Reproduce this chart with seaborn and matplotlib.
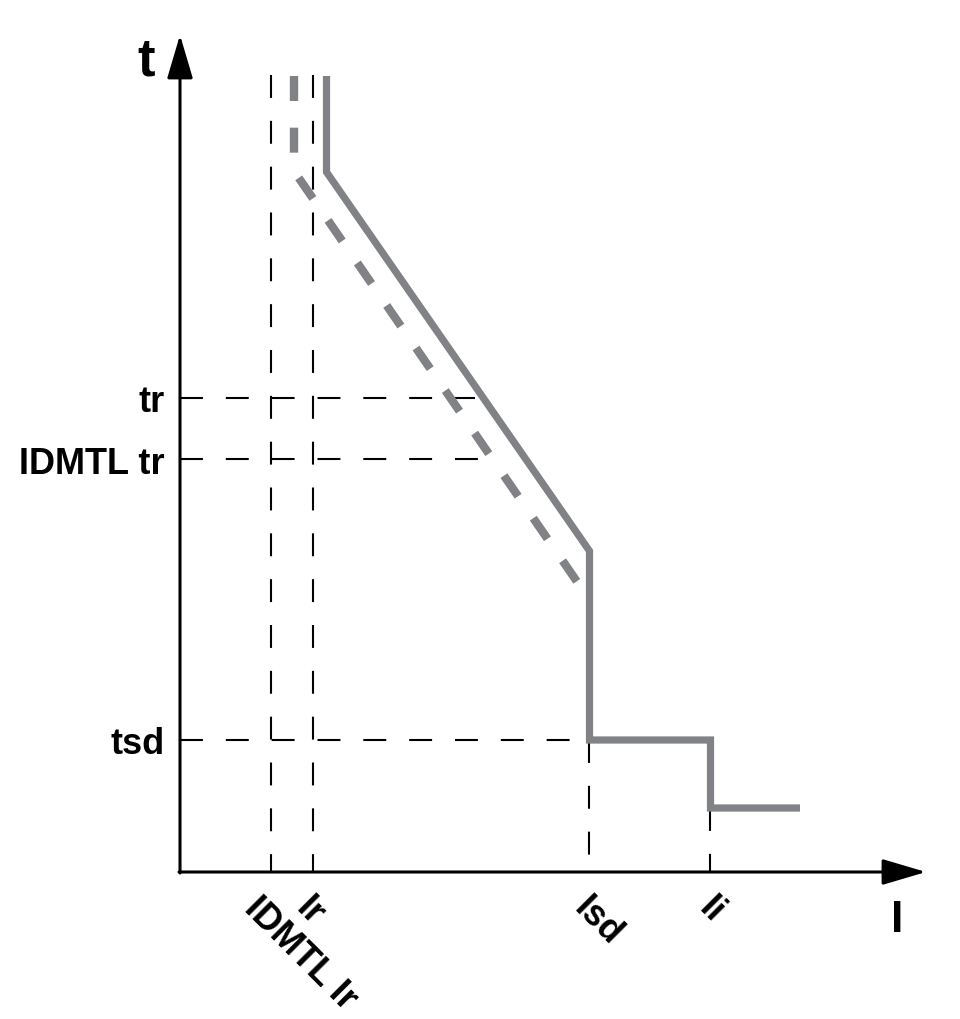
import matplotlib
matplotlib.use("Agg")
import matplotlib.pyplot as plt
import numpy as np
import pandas as pd
import seaborn as sns

# current levels (I axis) and time levels (t axis), schematic units
i_labels = ['IDMTL Ir', 'Ir', 'Isd', 'Ii']
i_values = [0.91, 1.33, 4.09, 5.30]
t_labels = ['tr', 'IDMTL tr', 'tsd']
t_values = [4.74, 4.13, 1.32]

# where each horizontal guide stops (meets the curve)
t_guide_end = [2.95, 3.08, 4.09]
# where each vertical guide starts from below the top
i_guide_top = [7.97, 7.97, 1.32, 0.64]

# solid trip curve
solid_I = [1.465, 1.465, 4.095, 4.095, 5.305, 5.305, 6.20]
solid_t = [7.96, 7.00, 3.21, 1.32, 1.32, 0.64, 0.64]

# dashed IDMTL curve
idmtl_I = [1.14, 1.14, 4.00]
idmtl_t = [7.96, 7.01, 2.86]

sns.set_theme(style='white')
plt.rcParams['font.family'] = ['Liberation Sans', 'DejaVu Sans']
plt.rcParams['text.color'] = 'black'

fig = plt.figure(figsize=(9.6, 10.2), dpi=100)
ax = fig.add_axes([0, 0, 1, 1])
ax.set_xlim(-1.80, 7.80)
ax.set_ylim(-1.47, 8.73)
ax.axis('off')

grey = '#808285'

# guide lines
for tv, xe in zip(t_values, t_guide_end):
    ax.plot([0, xe], [tv, tv], color='black', lw=1.5, linestyle=(0, (11, 11)))
for iv, yt in zip(i_values, i_guide_top):
    ax.plot([iv, iv], [yt, 0], color='black', lw=1.5, linestyle=(0, (11, 11)))

solid = pd.DataFrame({'I': solid_I, 't': solid_t})
idmtl = pd.DataFrame({'I': idmtl_I, 't': idmtl_t})
sns.lineplot(data=idmtl, x='I', y='t', sort=False, estimator=None, ax=ax,
             color=grey, lw=6, linestyle=(0, (3.0, 3.2)), dash_capstyle='butt')
sns.lineplot(data=solid, x='I', y='t', sort=False, estimator=None, ax=ax,
             color=grey, lw=5.2, solid_joinstyle='miter', solid_capstyle='butt')

# axes with arrows
arrow = dict(arrowstyle='-|>,head_length=1.35,head_width=0.4', lw=2.2,
             color='black', mutation_scale=20, shrinkA=0, shrinkB=0)
ax.annotate('', xy=(0, 8.37), xytext=(0, -0.01), arrowprops=arrow)
ax.annotate('', xy=(7.46, 0), xytext=(-0.01, 0), arrowprops=arrow)

ax.text(-0.34, 8.12, 't', fontsize=38, fontweight='bold', ha='center', va='center')
ax.text(7.17, -0.48, 'I', fontsize=32, fontweight='bold', ha='center', va='center')

for lab, tv in zip(t_labels, t_values):
    ax.text(-0.15, tv, lab, fontsize=26, fontweight='bold', ha='right', va='center_baseline')

label_dx = [-0.28, -0.18, -0.16, -0.12]
for lab, iv, dx in zip(i_labels, i_values, label_dx):
    ax.text(iv + dx, -0.37, lab, fontsize=26, fontweight='bold', rotation=-45,
            rotation_mode='anchor', ha='left', va='baseline')

fig.savefig('out.png', dpi=100)
